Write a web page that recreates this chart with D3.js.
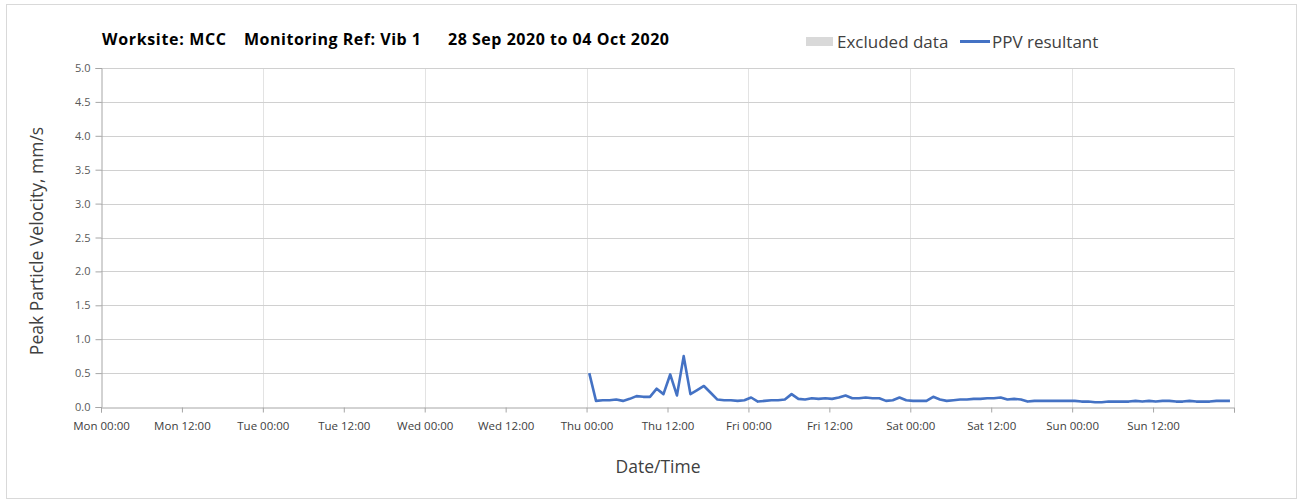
<!DOCTYPE html>
<html>
<head>
<meta charset="utf-8">
<script src="https://cdn.jsdelivr.net/npm/d3@7"></script>
<style>
  body { margin: 0; background: #fff; }
  text { font-family: "Open Sans", "Noto Sans", sans-serif; }
</style>
</head>
<body>
<div id="chart"></div>
<script>
// chart values
var titleParts = ["Worksite: MCC", "Monitoring Ref: Vib 1", "28 Sep 2020 to 04 Oct 2020"];
var legendLabels = ["Excluded data", "PPV resultant"];
var yTicks = [0, 0.5, 1, 1.5, 2, 2.5, 3, 3.5, 4, 4.5, 5];
var dayNames = ["Mon", "Tue", "Wed", "Thu", "Fri", "Sat", "Sun"];
var rangeStart = "2020-09-28T00:00", rangeEnd = "2020-10-05T00:00";

// hourly readings, first one at Thu 00:24
var ppvStart = "2020-10-01T00:24";
var ppvValues = [
  0.50, 0.09, 0.10, 0.10, 0.11, 0.09, 0.12, 0.16, 0.15, 0.15, 0.27, 0.19,
  0.48, 0.17, 0.75, 0.19, 0.25, 0.31, 0.21, 0.11, 0.10, 0.10, 0.09, 0.10,
  0.14, 0.08, 0.09, 0.10, 0.10, 0.11, 0.19, 0.12, 0.11, 0.13, 0.12, 0.13,
  0.12, 0.14, 0.17, 0.13, 0.13, 0.14, 0.13, 0.13, 0.09, 0.10, 0.14, 0.10,
  0.09, 0.09, 0.09, 0.15, 0.11, 0.09, 0.10, 0.11, 0.11, 0.12, 0.12, 0.13,
  0.13, 0.14, 0.11, 0.12, 0.11, 0.08, 0.09, 0.09, 0.09, 0.09, 0.09, 0.09,
  0.09, 0.08, 0.08, 0.07, 0.07, 0.08, 0.08, 0.08, 0.08, 0.09, 0.08, 0.09,
  0.08, 0.09, 0.09, 0.08, 0.08, 0.09, 0.08, 0.08, 0.08, 0.09, 0.09, 0.09
];

var parseTime = d3.timeParse("%Y-%m-%dT%H:%M");
var t0 = parseTime(ppvStart);
var ppvData = ppvValues.map(function(v, i) {
  return {time: d3.timeHour.offset(t0, i), value: v};
});

// dimensions
var W = 1303, H = 503;
var margin = {top: 68, right: 69, bottom: 96, left: 101},
    width = W - margin.left - margin.right,
    height = H - margin.top - margin.bottom;

var svg = d3.select("#chart").append("svg")
  .attr("width", W).attr("height", H);

// outer frame
svg.append("rect")
  .attr("x", 6.5).attr("y", 4.5)
  .attr("width", 1290).attr("height", 494)
  .attr("fill", "#fff").attr("stroke", "#d9d9d9");

var g = svg.append("g")
  .attr("transform", `translate(${margin.left},${margin.top})`);

var x = d3.scaleTime()
  .domain([parseTime(rangeStart), parseTime(rangeEnd)])
  .range([0, width]);

var y = d3.scaleLinear()
  .domain([0, 5])
  .range([height, 0]);

// vertical gridlines each day
var days = d3.timeDay.range(x.domain()[0], d3.timeDay.offset(x.domain()[1], 1));
g.append("g").selectAll("line")
  .data(days.slice(1))
  .join("line")
  .attr("x1", d => Math.round(x(d)) + 0.5).attr("x2", d => Math.round(x(d)) + 0.5)
  .attr("y1", 0).attr("y2", height)
  .attr("stroke", "#e3e3e3");

// horizontal gridlines
g.append("g").selectAll("line")
  .data(yTicks.slice(1))
  .join("line")
  .attr("x1", 0).attr("x2", width)
  .attr("y1", d => Math.round(y(d)) + 0.5).attr("y2", d => Math.round(y(d)) + 0.5)
  .attr("stroke", "#d0d0d0");

// y axis
var yAxis = g.append("g")
  .attr("transform", "translate(0.5,0)")
  .call(d3.axisLeft(y).tickValues(yTicks).tickFormat(d3.format(".1f")).tickSize(6).tickPadding(5));
yAxis.select(".domain").attr("stroke", "#a6a6a6");
yAxis.selectAll(".tick line").attr("stroke", "#a6a6a6");
yAxis.selectAll(".tick text").attr("fill", "#595959").style("font-size", "11px");

// x axis, tick every 12 hours
var xTickTimes = d3.timeHour.every(12).range(x.domain()[0], d3.timeHour.offset(x.domain()[1], 1));
var xAxis = g.append("g")
  .attr("transform", `translate(0,${height + 0.5})`)
  .call(d3.axisBottom(x).tickValues(xTickTimes).tickSize(5).tickPadding(9)
    .tickFormat(function(d) {
      if (+d === +x.domain()[1]) return "";
      return dayNames[(d.getDay() + 6) % 7] + " " + d3.timeFormat("%H:%M")(d);
    }));
xAxis.select(".domain").attr("stroke", "#a6a6a6");
xAxis.selectAll(".tick line").attr("stroke", "#a6a6a6");
xAxis.selectAll(".tick text").attr("fill", "#404040").style("font-size", "11.5px");

// data line
var line = d3.line()
  .x(d => x(d.time))
  .y(d => y(d.value));

g.append("path")
  .datum(ppvData)
  .attr("fill", "none")
  .attr("stroke", "#4472c4")
  .attr("stroke-width", 2.6)
  .attr("stroke-linejoin", "round")
  .attr("d", line);

// axis titles
svg.append("text")
  .attr("transform", "translate(43," + (margin.top + 173) + ") rotate(-90)")
  .attr("text-anchor", "middle")
  .attr("fill", "#404040")
  .style("font-size", "17.5px")
  .text("Peak Particle Velocity, mm/s");

svg.append("text")
  .attr("x", 658).attr("y", 473)
  .attr("text-anchor", "middle")
  .attr("fill", "#404040")
  .style("font-size", "17.5px")
  .text("Date/Time");

// title
var titleX = [102, 244, 448];
var titleW = [124, 177, 221];
svg.append("g").selectAll("text")
  .data(titleParts)
  .join("text")
  .attr("x", (d, i) => titleX[i]).attr("y", 45)
  .attr("textLength", (d, i) => titleW[i])
  .attr("fill", "#000")
  .style("font-size", "16px")
  .style("font-weight", "bold")
  .text(d => d);

// legend
var legend = svg.append("g");
legend.append("rect")
  .attr("x", 806).attr("y", 37)
  .attr("width", 27).attr("height", 9)
  .attr("fill", "#d9d9d9");
legend.append("text")
  .attr("x", 837).attr("y", 48)
  .attr("fill", "#404040")
  .style("font-size", "17px")
  .text(legendLabels[0]);
legend.append("line")
  .attr("x1", 960).attr("x2", 990)
  .attr("y1", 41.5).attr("y2", 41.5)
  .attr("stroke", "#4472c4").attr("stroke-width", 3);
legend.append("text")
  .attr("x", 992).attr("y", 48)
  .attr("fill", "#404040")
  .style("font-size", "17px")
  .text(legendLabels[1]);
</script>
</body>
</html>
